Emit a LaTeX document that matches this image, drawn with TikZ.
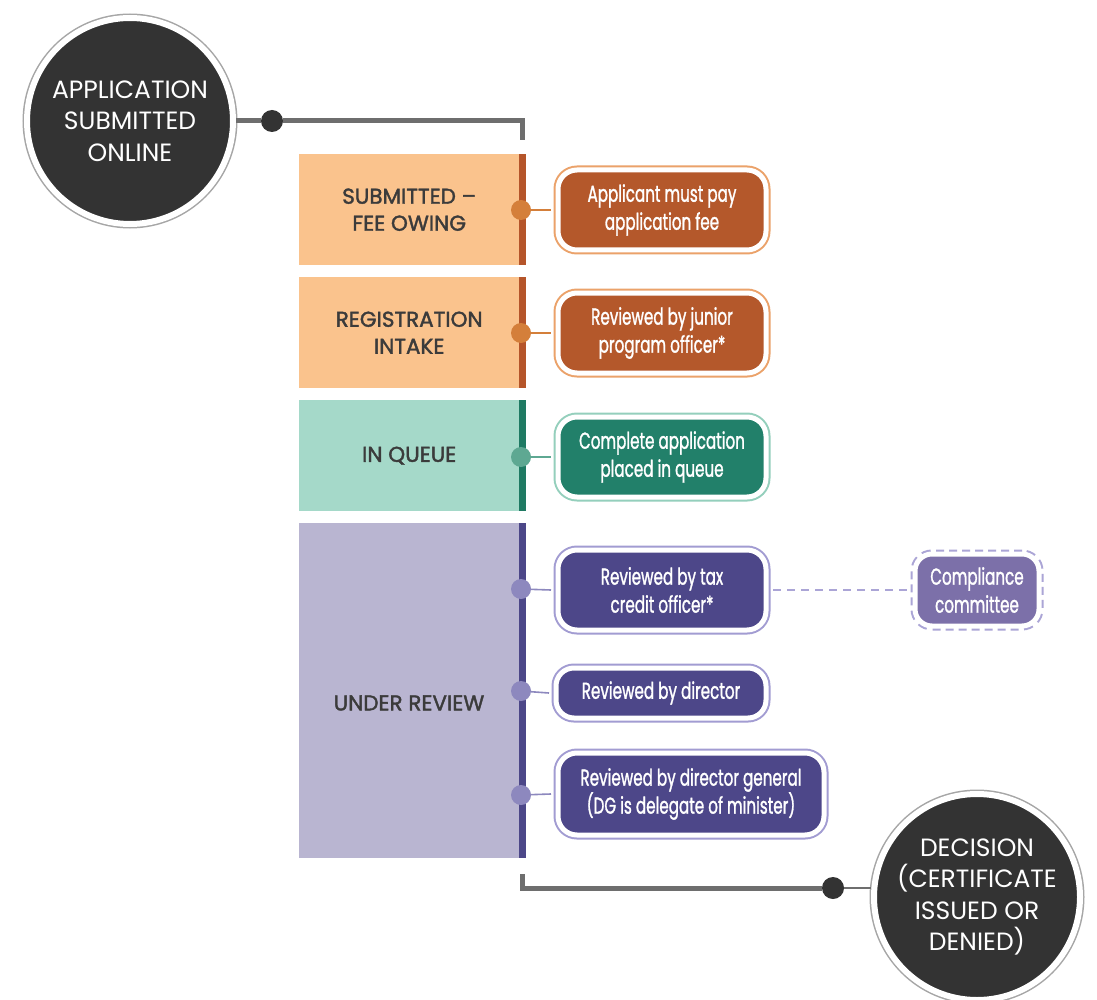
\documentclass[tikz,border=0pt]{standalone}
\usepackage{fontspec}
\setmainfont{Poppins}
\newfontfamily\condfont[FakeStretch=0.66,FakeBold=1.2]{Poppins}
\newfontfamily\headfont{Poppins}
\newfontfamily\stagefont[FakeBold=1.8]{Poppins}
\usetikzlibrary{calc}
\definecolor{orL}{HTML}{FAC38D}
\definecolor{orS}{HTML}{B5552A}
\definecolor{orD}{HTML}{D47F3A}
\definecolor{orP}{HTML}{B4582B}
\definecolor{orO}{HTML}{EBA26A}
\definecolor{teL}{HTML}{A5D9C9}
\definecolor{teS}{HTML}{1F7A63}
\definecolor{teD}{HTML}{5EA892}
\definecolor{teP}{HTML}{22806A}
\definecolor{teO}{HTML}{94CFBC}
\definecolor{puL}{HTML}{B9B5D1}
\definecolor{puS}{HTML}{4C4788}
\definecolor{puD}{HTML}{8D88BE}
\definecolor{puP}{HTML}{4D4789}
\definecolor{puO}{HTML}{A29CD2}
\definecolor{coF}{HTML}{7C70A9}
\definecolor{coO}{HTML}{ABA5D6}
\definecolor{txt}{HTML}{3B3B3B}
\definecolor{conn}{HTML}{6E6E6E}
\definecolor{disc}{HTML}{333333}
\tikzset{
  bigcirc/.style={circle, fill=disc, draw=white, line width=6pt, minimum size=206pt, inner sep=0pt,
    preaction={draw=gray!70, line width=9pt},
    text=white, align=center, font=\headfont\fontsize{25}{31.5}\selectfont},
  stagebox/.style={anchor=north west, inner sep=0pt, minimum width=220pt, text=txt, align=center,
    font=\stagefont\fontsize{21.5}{27}\selectfont},
  stagelabel/.style={text=txt, align=center, font=\stagefont\fontsize{21.5}{27}\selectfont},
  stagedot/.style={circle, inner sep=0pt, minimum size=20pt},
  pill/.style={rounded corners=19pt, draw=white, line width=5pt, inner sep=0pt,
    minimum height=80pt, minimum width=208pt, text=white, align=center,
    font=\condfont\fontsize{23}{28}\selectfont},
  link/.style={line width=1.6pt},
  thick connector/.style={draw=conn, line width=5pt},
  bigdot/.style={circle, fill=disc, inner sep=0pt, minimum size=22pt},
}
\begin{document}
\begin{tikzpicture}[x=1pt,y=-1pt]
\useasboundingbox (0,0) rectangle (1097,1000);
\fill[white] (0,0) rectangle (1097,1000);

% start circle and top connector
\node[bigcirc] (start) at (130,121) {APPLICATION\\SUBMITTED\\ONLINE};
\node[bigdot] (sdot) at (272,121) {};
\coordinate (tc) at (522,121);
\coordinate (tcend) at (522,140);
\draw[thick connector] (start.east) -- (sdot);
\draw[thick connector] (sdot) -- (tc) -- (tcend);

% stage boxes
\node[stagebox, fill=orL, minimum height=111pt] (s1) at (299,154) {SUBMITTED –\\FEE OWING};
\node[stagebox, fill=orL, minimum height=111pt] (s2) at (299,277) {REGISTRATION\\INTAKE};
\node[stagebox, fill=teL, minimum height=111pt] (s3) at (299,400) {IN QUEUE};
\node[stagebox, fill=puL, minimum height=335pt] (s4) at (299,523) {};
\node[stagelabel] (s4l) at (409,703) {UNDER REVIEW};
\fill[orS] (s1.north east) rectangle ($(s1.south east)+(7,0)$);
\fill[orS] (s2.north east) rectangle ($(s2.south east)+(7,0)$);
\fill[teS] (s3.north east) rectangle ($(s3.south east)+(7,0)$);
\fill[puS] (s4.north east) rectangle ($(s4.south east)+(7,0)$);

% dots
\node[stagedot, fill=orD] (d1) at (521,210) {};
\node[stagedot, fill=orD] (d2) at (521,333) {};
\node[stagedot, fill=teD] (d3) at (521,457) {};
\node[stagedot, fill=puD] (d4) at (521,589) {};
\node[stagedot, fill=puD] (d5) at (521,691) {};
\node[stagedot, fill=puD] (d6) at (521,795) {};

% pills
\node[pill, fill=orP, preaction={draw=orO, line width=9pt}] (p1) at (662,210) {Applicant must pay\\application fee};
\node[pill, fill=orP, preaction={draw=orO, line width=9pt}] (p2) at (662,333) {Reviewed by junior\\program officer*};
\node[pill, fill=teP, preaction={draw=teO, line width=9pt}] (p3) at (662,457) {Complete application\\placed in queue};
\node[pill, fill=puP, preaction={draw=puO, line width=9pt}] (p4) at (662,590) {Reviewed by tax\\credit officer*};
\node[pill, fill=puP, preaction={draw=puO, line width=9pt}, minimum height=50pt, minimum width=210pt, rounded corners=18pt] (p5) at (661,693) {Reviewed by director};
\node[pill, fill=puP, preaction={draw=puO, line width=9pt}, minimum height=82pt, minimum width=266pt] (p6) at (691,794) {Reviewed by director general\\(DG is delegate of minister)};
\node[pill, fill=coF, minimum height=72pt, minimum width=124pt, rounded corners=17pt,
      preaction={draw=coO, line width=9pt, dash pattern=on 8pt off 5pt}] (cc) at (977,590) {Compliance\\committee};

% links
\draw[link, orD] (d1) -- ($(p1.west)+(-4.5,0)$);
\draw[link, orD] (d2) -- ($(p2.west)+(-4.5,0)$);
\draw[link, teD] (d3) -- ($(p3.west)+(-4.5,0)$);
\draw[link, puD] (d4) -- ($(p4.west)+(-4.5,0)$);
\draw[link, puD] (d5) -- ($(p5.west)+(-4.5,0)$);
\draw[link, puD] (d6) -- ($(p6.west)+(-4.5,0)$);
\draw[link, coO, dash pattern=on 8pt off 6pt] ($(p4.east)+(4.5,0)$) -- ($(cc.west)+(-4.5,0)$);

% end circle and bottom connector
\node[bigcirc] (end) at (977,897) {DECISION\\(CERTIFICATE\\ISSUED OR\\DENIED)};
\node[bigdot] (edot) at (833,888) {};
\coordinate (bc) at (522,888);
\coordinate (bcstart) at (522,874);
\draw[thick connector] (bcstart) -- (bc) -- (edot);
\draw[draw=conn, line width=2pt] (edot) -- (end.west |- edot);
\end{tikzpicture}
\end{document}
